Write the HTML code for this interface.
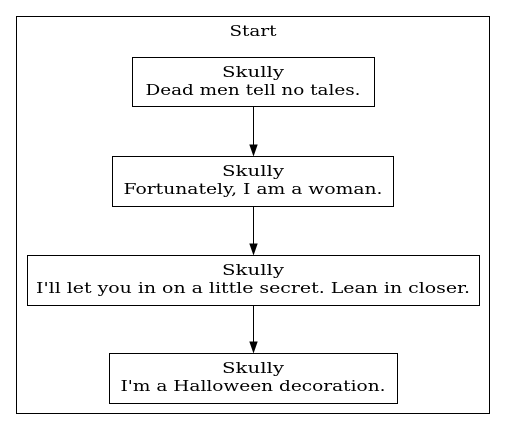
<!DOCTYPE html>
<html><head><meta charset="utf-8"><style>html,body{margin:0;padding:0;background:#fff}svg{display:block}</style></head>
<body>
<svg width="507" height="431" viewBox="0 0 507 431" xmlns="http://www.w3.org/2000/svg" font-family="DejaVu Serif, serif" font-size="15" text-anchor="middle">
<rect x="0" y="0" width="507" height="431" fill="#fff"/>
<rect x="16.5" y="16.5" width="473" height="397" fill="none" stroke="#000"/>
<text x="253" y="36" textLength="47" lengthAdjust="spacingAndGlyphs">Start</text>
<rect x="132.5" y="57.5" width="242" height="49" fill="none" stroke="#000"/>
<text x="253" y="77" textLength="62" lengthAdjust="spacingAndGlyphs">Skully</text><text x="253" y="95" textLength="215" lengthAdjust="spacingAndGlyphs">Dead men tell no tales.</text>
<rect x="112.5" y="156.5" width="281" height="50" fill="none" stroke="#000"/>
<text x="253" y="176" textLength="62" lengthAdjust="spacingAndGlyphs">Skully</text><text x="253" y="194" textLength="259" lengthAdjust="spacingAndGlyphs">Fortunately, I am a woman.</text>
<rect x="27.5" y="255.5" width="452" height="50" fill="none" stroke="#000"/>
<text x="253" y="275" textLength="62" lengthAdjust="spacingAndGlyphs">Skully</text><text x="253" y="293" textLength="434" lengthAdjust="spacingAndGlyphs">I'll let you in on a little secret. Lean in closer.</text>
<rect x="109.5" y="353.5" width="288" height="50" fill="none" stroke="#000"/>
<text x="253" y="373" textLength="62" lengthAdjust="spacingAndGlyphs">Skully</text><text x="253" y="391" textLength="265" lengthAdjust="spacingAndGlyphs">I'm a Halloween decoration.</text>
<g stroke="#000" fill="#000">
<line x1="253.5" y1="107" x2="253.5" y2="145"/><polygon points="250,145 257,145 253.5,155"/>
<line x1="253.5" y1="207" x2="253.5" y2="244"/><polygon points="250,244 257,244 253.5,254"/>
<line x1="253.5" y1="306" x2="253.5" y2="342"/><polygon points="250,342 257,342 253.5,352"/>
</g>
</svg>
</body></html>
